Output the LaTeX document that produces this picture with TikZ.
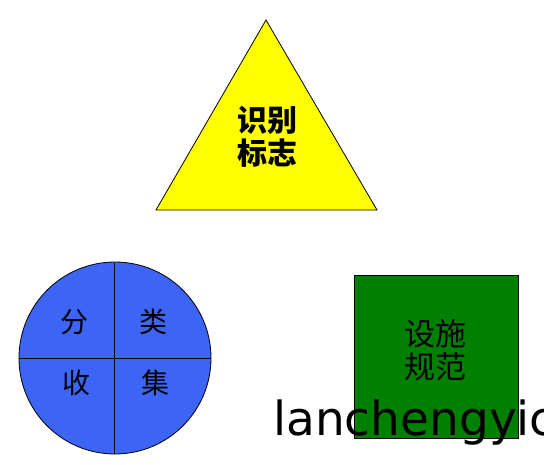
\documentclass[tikz,border=0pt]{standalone}
\usepackage{fontspec}
\newfontfamily\cjk{Noto Sans CJK SC}
\newfontfamily\wm{DejaVu Sans}
\definecolor{tri}{RGB}{255,255,0}
\definecolor{disc}{RGB}{60,100,245}
\definecolor{sq}{RGB}{0,128,0}
\tikzset{
  shapeline/.style={draw=black, line width=0.8pt},
  cjklabel/.style={font=\cjk\fontsize{31}{33}\selectfont, align=center, inner sep=0pt, text=black},
  quarter/.style={font=\cjk\fontsize{28}{30}\selectfont, inner sep=0pt, text=black},
}
\begin{document}
\begin{tikzpicture}[x=1pt,y=-1pt]
\clip (0,0) rectangle (544,464);
\useasboundingbox (0,0) rectangle (544,464);
% triangle
\draw[shapeline, fill=tri] (266,20) coordinate (apex) -- (377,210) coordinate (br) -- (156,210) coordinate (bl) -- cycle;
\node[cjklabel, font=\cjk\bfseries\fontsize{30}{33}\selectfont] (tlabel) at (267,137) {识别\\标志};
% circle
\draw[shapeline, fill=disc] (115,358) circle[radius=96];
\coordinate (ctop) at (114,263);
\coordinate (cbot) at (114,454);
\coordinate (cleft) at (19,358);
\coordinate (cright) at (211,358);
\draw[shapeline] (ctop) -- (cbot);
\draw[shapeline] (cleft) -- (cright);
\node[quarter] (fen) at (74,322) {分};
\node[quarter] (lei) at (153,322) {类};
\node[quarter] (shou) at (76,383) {收};
\node[quarter] (ji) at (155,383) {集};
% square
\draw[shapeline, fill=sq] (354,275) rectangle (518,438);
\node[cjklabel] (slabel) at (435,350) {设施\\规范};
% watermark
\node[anchor=base west, inner sep=0pt, font=\wm\fontsize{47}{50}\selectfont] (wmark) at (273,435) {lanchengyic};
\end{tikzpicture}
\end{document}
